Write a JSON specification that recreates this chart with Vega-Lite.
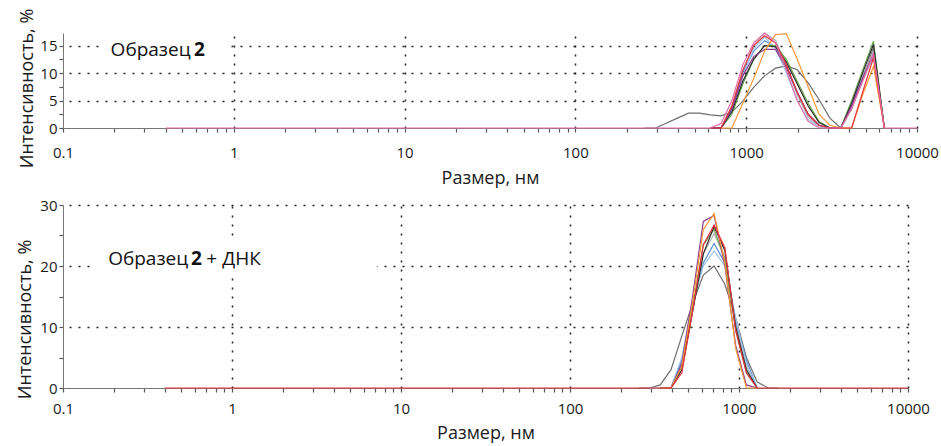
{
  "$schema": "https://vega.github.io/schema/vega-lite/v6.json",
  "background": "white",
  "padding": {"left": 16, "top": 8, "right": 5, "bottom": 3},
  "spacing": 11,
  "config": {
    "font": "Open Sans",
    "view": {"stroke": null},
    "axis": {
      "labelFont": "Open Sans", "labelFontSize": 15, "labelColor": "#1a1a1a",
      "titleFont": "Open Sans", "titleFontSize": 18, "titleFontWeight": "normal", "titleColor": "#1a1a1a",
      "domainColor": "#777777", "tickColor": "#555555", "tickSize": 4, "tickWidth": 1.2,
      "gridColor": "#222222", "gridDash": [2, 7], "gridWidth": 1.5,
      "labelOverlap": false, "labelFlush": false
    }
  },
  "datasets": {
    "top": [
      {"series":"s01","size":255,"intensity":0},{"series":"s01","size":295.3,"intensity":0},{"series":"s01","size":342,"intensity":0.9},{"series":"s01","size":396.1,"intensity":1.8},{"series":"s01","size":458.7,"intensity":2.7},{"series":"s01","size":531.2,"intensity":2.7},{"series":"s01","size":615.1,"intensity":2.4},{"series":"s01","size":712.4,"intensity":2.2},{"series":"s01","size":825,"intensity":2.9},{"series":"s01","size":955.4,"intensity":4.9},{"series":"s01","size":1106,"intensity":7.4},{"series":"s01","size":1281,"intensity":9.5},{"series":"s01","size":1484,"intensity":10.9},{"series":"s01","size":1718,"intensity":11.3},{"series":"s01","size":1990,"intensity":10.6},{"series":"s01","size":2305,"intensity":8.2},{"series":"s01","size":2669,"intensity":5.2},{"series":"s01","size":3091,"intensity":1.8},{"series":"s01","size":3580,"intensity":0},{"series":"s01","size":4145,"intensity":3.5},{"series":"s01","size":4801,"intensity":9.0},{"series":"s01","size":5560,"intensity":14.6},{"series":"s01","size":6439,"intensity":0},
      {"series":"s02","size":615.1,"intensity":0},{"series":"s02","size":712.4,"intensity":0},{"series":"s02","size":825,"intensity":4.0},{"series":"s02","size":955.4,"intensity":10.5},{"series":"s02","size":1106,"intensity":15.0},{"series":"s02","size":1281,"intensity":17.3},{"series":"s02","size":1484,"intensity":16.0},{"series":"s02","size":1718,"intensity":11.5},{"series":"s02","size":1990,"intensity":6.0},{"series":"s02","size":2305,"intensity":2.0},{"series":"s02","size":2669,"intensity":0.3},{"series":"s02","size":3091,"intensity":0},{"series":"s02","size":3580,"intensity":0},{"series":"s02","size":4145,"intensity":4.0},{"series":"s02","size":4801,"intensity":9.5},{"series":"s02","size":5560,"intensity":14.0},{"series":"s02","size":6439,"intensity":0},
      {"series":"s03","size":615.1,"intensity":0},{"series":"s03","size":712.4,"intensity":0},{"series":"s03","size":825,"intensity":3.5},{"series":"s03","size":955.4,"intensity":10.0},{"series":"s03","size":1106,"intensity":14.0},{"series":"s03","size":1281,"intensity":15.9},{"series":"s03","size":1484,"intensity":14.8},{"series":"s03","size":1718,"intensity":11.0},{"series":"s03","size":1990,"intensity":6.5},{"series":"s03","size":2305,"intensity":2.5},{"series":"s03","size":2669,"intensity":0.5},{"series":"s03","size":3091,"intensity":0},{"series":"s03","size":3580,"intensity":0},{"series":"s03","size":4145,"intensity":4.0},{"series":"s03","size":4801,"intensity":9.0},{"series":"s03","size":5560,"intensity":13.5},{"series":"s03","size":6439,"intensity":0},
      {"series":"s04","size":615.1,"intensity":0},{"series":"s04","size":712.4,"intensity":0},{"series":"s04","size":825,"intensity":3.0},{"series":"s04","size":955.4,"intensity":9.5},{"series":"s04","size":1106,"intensity":14.5},{"series":"s04","size":1281,"intensity":16.5},{"series":"s04","size":1484,"intensity":14.5},{"series":"s04","size":1718,"intensity":10.0},{"series":"s04","size":1990,"intensity":5.0},{"series":"s04","size":2305,"intensity":1.5},{"series":"s04","size":2669,"intensity":0.3},{"series":"s04","size":3091,"intensity":0},{"series":"s04","size":3580,"intensity":0},{"series":"s04","size":4145,"intensity":3.5},{"series":"s04","size":4801,"intensity":8.5},{"series":"s04","size":5560,"intensity":13.0},{"series":"s04","size":6439,"intensity":0},
      {"series":"s05","size":615.1,"intensity":0},{"series":"s05","size":712.4,"intensity":0},{"series":"s05","size":825,"intensity":2.5},{"series":"s05","size":955.4,"intensity":8.0},{"series":"s05","size":1106,"intensity":12.5},{"series":"s05","size":1281,"intensity":15.0},{"series":"s05","size":1484,"intensity":15.0},{"series":"s05","size":1718,"intensity":12.5},{"series":"s05","size":1990,"intensity":8.5},{"series":"s05","size":2305,"intensity":4.5},{"series":"s05","size":2669,"intensity":1.2},{"series":"s05","size":3091,"intensity":0},{"series":"s05","size":3580,"intensity":0},{"series":"s05","size":4145,"intensity":5.0},{"series":"s05","size":4801,"intensity":10.5},{"series":"s05","size":5560,"intensity":15.8},{"series":"s05","size":6439,"intensity":0},
      {"series":"s06","size":615.1,"intensity":0},{"series":"s06","size":712.4,"intensity":0},{"series":"s06","size":825,"intensity":3.0},{"series":"s06","size":955.4,"intensity":8.5},{"series":"s06","size":1106,"intensity":12.5},{"series":"s06","size":1281,"intensity":15.0},{"series":"s06","size":1484,"intensity":14.8},{"series":"s06","size":1718,"intensity":12.0},{"series":"s06","size":1990,"intensity":8.0},{"series":"s06","size":2305,"intensity":4.0},{"series":"s06","size":2669,"intensity":1.0},{"series":"s06","size":3091,"intensity":0},{"series":"s06","size":3580,"intensity":0},{"series":"s06","size":4145,"intensity":4.5},{"series":"s06","size":4801,"intensity":10.0},{"series":"s06","size":5560,"intensity":15.2},{"series":"s06","size":6439,"intensity":0},
      {"series":"s07","size":615.1,"intensity":0},{"series":"s07","size":712.4,"intensity":0},{"series":"s07","size":825,"intensity":3.5},{"series":"s07","size":955.4,"intensity":9.5},{"series":"s07","size":1106,"intensity":13.0},{"series":"s07","size":1281,"intensity":14.3},{"series":"s07","size":1484,"intensity":14.3},{"series":"s07","size":1718,"intensity":11.0},{"series":"s07","size":1990,"intensity":6.5},{"series":"s07","size":2305,"intensity":2.5},{"series":"s07","size":2669,"intensity":0.5},{"series":"s07","size":3091,"intensity":0},{"series":"s07","size":3580,"intensity":0},{"series":"s07","size":4145,"intensity":4.0},{"series":"s07","size":4801,"intensity":9.0},{"series":"s07","size":5560,"intensity":13.4},{"series":"s07","size":6439,"intensity":0},
      {"series":"s08","size":712.4,"intensity":0},{"series":"s08","size":825,"intensity":0},{"series":"s08","size":955.4,"intensity":4.5},{"series":"s08","size":1106,"intensity":9.0},{"series":"s08","size":1281,"intensity":14.0},{"series":"s08","size":1484,"intensity":17.0},{"series":"s08","size":1718,"intensity":17.2},{"series":"s08","size":1990,"intensity":12.5},{"series":"s08","size":2305,"intensity":7.5},{"series":"s08","size":2669,"intensity":2.5},{"series":"s08","size":3091,"intensity":0.5},{"series":"s08","size":3580,"intensity":0},{"series":"s08","size":4145,"intensity":0},{"series":"s08","size":4801,"intensity":6.0},{"series":"s08","size":5560,"intensity":11.2},{"series":"s08","size":6439,"intensity":0},
      {"series":"s09","size":615.1,"intensity":0},{"series":"s09","size":712.4,"intensity":0},{"series":"s09","size":825,"intensity":4.0},{"series":"s09","size":955.4,"intensity":10.5},{"series":"s09","size":1106,"intensity":15.0},{"series":"s09","size":1281,"intensity":16.8},{"series":"s09","size":1484,"intensity":15.5},{"series":"s09","size":1718,"intensity":11.5},{"series":"s09","size":1990,"intensity":6.5},{"series":"s09","size":2305,"intensity":2.5},{"series":"s09","size":2669,"intensity":0.5},{"series":"s09","size":3091,"intensity":0},{"series":"s09","size":3580,"intensity":0},{"series":"s09","size":4145,"intensity":0},{"series":"s09","size":4801,"intensity":6.5},{"series":"s09","size":5560,"intensity":12.8},{"series":"s09","size":6439,"intensity":0},
      {"series":"s10","size":0.4,"intensity":0},{"series":"s10","size":615.1,"intensity":0},{"series":"s10","size":712.4,"intensity":0.8},{"series":"s10","size":825,"intensity":5.0},{"series":"s10","size":955.4,"intensity":11.5},{"series":"s10","size":1106,"intensity":15.5},{"series":"s10","size":1281,"intensity":17.3},{"series":"s10","size":1484,"intensity":15.5},{"series":"s10","size":1718,"intensity":10.5},{"series":"s10","size":1990,"intensity":5.0},{"series":"s10","size":2305,"intensity":1.2},{"series":"s10","size":2669,"intensity":0},{"series":"s10","size":3091,"intensity":0},{"series":"s10","size":3580,"intensity":0},{"series":"s10","size":4145,"intensity":3.5},{"series":"s10","size":4801,"intensity":8.5},{"series":"s10","size":5560,"intensity":13.5},{"series":"s10","size":6439,"intensity":0},{"series":"s10","size":10000,"intensity":0}
    ],
    "bottom": [
      {"series":"s01","size":255,"intensity":0},{"series":"s01","size":295.3,"intensity":0},{"series":"s01","size":342,"intensity":0.5},{"series":"s01","size":396.1,"intensity":3.0},{"series":"s01","size":458.7,"intensity":8.5},{"series":"s01","size":531.2,"intensity":13.8},{"series":"s01","size":615.1,"intensity":18.5},{"series":"s01","size":712.4,"intensity":20.0},{"series":"s01","size":825,"intensity":17.0},{"series":"s01","size":955.4,"intensity":11.5},{"series":"s01","size":1106,"intensity":5.0},{"series":"s01","size":1281,"intensity":1.0},{"series":"s01","size":1484,"intensity":0},{"series":"s01","size":1718,"intensity":0},
      {"series":"s02","size":342,"intensity":0},{"series":"s02","size":396.1,"intensity":0},{"series":"s02","size":458.7,"intensity":4.0},{"series":"s02","size":531.2,"intensity":13.0},{"series":"s02","size":615.1,"intensity":22.0},{"series":"s02","size":712.4,"intensity":25.3},{"series":"s02","size":825,"intensity":21.5},{"series":"s02","size":955.4,"intensity":10.5},{"series":"s02","size":1106,"intensity":3.5},{"series":"s02","size":1281,"intensity":0},
      {"series":"s03","size":342,"intensity":0},{"series":"s03","size":396.1,"intensity":0},{"series":"s03","size":458.7,"intensity":4.5},{"series":"s03","size":531.2,"intensity":13.5},{"series":"s03","size":615.1,"intensity":20.5},{"series":"s03","size":712.4,"intensity":23.7},{"series":"s03","size":825,"intensity":20.5},{"series":"s03","size":955.4,"intensity":11.0},{"series":"s03","size":1106,"intensity":4.5},{"series":"s03","size":1281,"intensity":0},
      {"series":"s04","size":295.3,"intensity":0},{"series":"s04","size":396.1,"intensity":0},{"series":"s04","size":458.7,"intensity":5.0},{"series":"s04","size":531.2,"intensity":14.0},{"series":"s04","size":615.1,"intensity":20.0},{"series":"s04","size":712.4,"intensity":22.5},{"series":"s04","size":825,"intensity":20.0},{"series":"s04","size":955.4,"intensity":11.5},{"series":"s04","size":1106,"intensity":4.0},{"series":"s04","size":1281,"intensity":0},
      {"series":"s05","size":342,"intensity":0},{"series":"s05","size":396.1,"intensity":0},{"series":"s05","size":458.7,"intensity":3.5},{"series":"s05","size":531.2,"intensity":13.0},{"series":"s05","size":615.1,"intensity":23.5},{"series":"s05","size":712.4,"intensity":26.0},{"series":"s05","size":825,"intensity":21.0},{"series":"s05","size":955.4,"intensity":9.5},{"series":"s05","size":1106,"intensity":2.5},{"series":"s05","size":1281,"intensity":0},
      {"series":"s06","size":342,"intensity":0},{"series":"s06","size":396.1,"intensity":0},{"series":"s06","size":458.7,"intensity":3.0},{"series":"s06","size":531.2,"intensity":12.5},{"series":"s06","size":615.1,"intensity":22.0},{"series":"s06","size":712.4,"intensity":26.5},{"series":"s06","size":825,"intensity":22.5},{"series":"s06","size":955.4,"intensity":10.0},{"series":"s06","size":1106,"intensity":3.0},{"series":"s06","size":1281,"intensity":0},
      {"series":"s07","size":342,"intensity":0},{"series":"s07","size":396.1,"intensity":0},{"series":"s07","size":458.7,"intensity":4.0},{"series":"s07","size":531.2,"intensity":15.0},{"series":"s07","size":615.1,"intensity":27.3},{"series":"s07","size":712.4,"intensity":28.3},{"series":"s07","size":825,"intensity":20.0},{"series":"s07","size":955.4,"intensity":7.0},{"series":"s07","size":1106,"intensity":0.5},{"series":"s07","size":1281,"intensity":0},
      {"series":"s08","size":342,"intensity":0},{"series":"s08","size":396.1,"intensity":0},{"series":"s08","size":458.7,"intensity":3.5},{"series":"s08","size":531.2,"intensity":14.0},{"series":"s08","size":615.1,"intensity":26.0},{"series":"s08","size":712.4,"intensity":28.6},{"series":"s08","size":825,"intensity":20.5},{"series":"s08","size":955.4,"intensity":6.5},{"series":"s08","size":1106,"intensity":0},{"series":"s08","size":1281,"intensity":0},
      {"series":"s09","size":0.4,"intensity":0},{"series":"s09","size":396.1,"intensity":0},{"series":"s09","size":458.7,"intensity":2.5},{"series":"s09","size":531.2,"intensity":12.5},{"series":"s09","size":615.1,"intensity":23.5},{"series":"s09","size":712.4,"intensity":26.7},{"series":"s09","size":825,"intensity":23.0},{"series":"s09","size":955.4,"intensity":9.5},{"series":"s09","size":1106,"intensity":2.5},{"series":"s09","size":1281,"intensity":0},{"series":"s09","size":10000,"intensity":0}
    ]
  },
  "vconcat": [
    {
      "width": 854,
      "height": 95,
      "resolve": {"axis": {"x": "independent", "y": "independent"}},
      "layer": [
        {
          "data": {"values": [{}]},
          "mark": {"type": "rect", "color": "white"},
          "encoding": {
            "x": {"datum": 0.163, "type": "quantitative",
              "axis": {"orient": "top", "values": [1, 10, 100, 1000, 10000], "grid": true, "ticks": false, "labels": false, "domain": false, "title": null}},
            "x2": {"datum": 0.914},
            "y": {"datum": 16.7, "type": "quantitative",
              "axis": {"orient": "right", "values": [5, 10, 15], "grid": true, "ticks": false, "labels": false, "domain": false, "title": null}},
            "y2": {"datum": 12.2}
          }
        },
        {
          "data": {"name": "top"},
          "mark": {"type": "line", "strokeWidth": 1.2},
          "encoding": {
            "x": {
              "field": "size", "type": "quantitative",
              "scale": {"type": "log", "domain": [0.1, 10000], "nice": false},
              "axis": {
                "orient": "bottom",
                "title": "Размер, нм",
                "grid": false,
                "values": [0.1,0.2,0.3,0.4,0.5,0.6,0.7,0.8,0.9,1,2,3,4,5,6,7,8,9,10,20,30,40,50,60,70,80,90,100,200,300,400,500,600,700,800,900,1000,2000,3000,4000,5000,6000,7000,8000,9000,10000],
                "labelExpr": "abs(log(datum.value)/LN10 - round(log(datum.value)/LN10)) < 0.001 ? '' + datum.value : ''",
                "labelPadding": 13,
                "titlePadding": 9
              }
            },
            "y": {
              "field": "intensity", "type": "quantitative",
              "scale": {"domain": [0, 17.3], "nice": false},
              "axis": {
                "orient": "left",
                "title": "Интенсивность, %",
                "grid": false,
                "values": [0, 2.5, 5, 7.5, 10, 12.5, 15],
                "labelExpr": "datum.value % 5 == 0 ? '' + datum.value : ''",
                "labelPadding": 2,
                "titlePadding": 3,
                "titleY": 55
              }
            },
            "color": {
              "field": "series", "type": "nominal", "legend": null,
              "scale": {
                "domain": ["s01","s02","s03","s04","s05","s06","s07","s08","s09","s10"],
                "range": ["#6e6e6e","#b4b4b4","#5b8fd0","#9cc3e6","#6aa84f","#2b2b2b","#8e3a8e","#f7993a","#e8303a","#e66aa5"]
              }
            }
          }
        },
        {
          "data": {"values": [{}]},
          "mark": {"type": "text", "align": "left", "baseline": "middle", "fontSize": 19, "font": "Open Sans", "color": "#111111"},
          "encoding": {
            "x": {"datum": 0.19, "type": "quantitative", "axis": null},
            "y": {"datum": 14.2, "type": "quantitative", "axis": null},
            "text": {"value": "Образец"}
          }
        },
        {
          "data": {"values": [{}]},
          "mark": {"type": "text", "align": "left", "baseline": "middle", "fontSize": 19, "font": "Open Sans", "fontWeight": "bold", "color": "#111111"},
          "encoding": {
            "x": {"datum": 0.585, "type": "quantitative", "axis": null},
            "y": {"datum": 14.2, "type": "quantitative", "axis": null},
            "text": {"value": "2"}
          }
        }
      ]
    },
    {
      "width": 845,
      "height": 183,
      "resolve": {"axis": {"x": "independent", "y": "independent"}},
      "layer": [
        {
          "data": {"values": [{}]},
          "mark": {"type": "rect", "color": "white"},
          "encoding": {
            "x": {"datum": 0.153, "type": "quantitative",
              "axis": {"orient": "top", "values": [1, 10, 100, 1000, 10000], "grid": true, "ticks": false, "labels": false, "domain": false, "title": null}},
            "x2": {"datum": 7.2},
            "y": {"datum": 24.2, "type": "quantitative",
              "axis": {"orient": "right", "values": [10, 20, 30], "grid": true, "ticks": false, "labels": false, "domain": false, "title": null}},
            "y2": {"datum": 18.8}
          }
        },
        {
          "data": {"name": "bottom"},
          "mark": {"type": "line", "strokeWidth": 1.2},
          "encoding": {
            "x": {
              "field": "size", "type": "quantitative",
              "scale": {"type": "log", "domain": [0.1, 10000], "nice": false},
              "axis": {
                "orient": "bottom",
                "title": "Размер, нм",
                "grid": false,
                "values": [0.1,0.2,0.3,0.4,0.5,0.6,0.7,0.8,0.9,1,2,3,4,5,6,7,8,9,10,20,30,40,50,60,70,80,90,100,200,300,400,500,600,700,800,900,1000,2000,3000,4000,5000,6000,7000,8000,9000,10000],
                "labelExpr": "abs(log(datum.value)/LN10 - round(log(datum.value)/LN10)) < 0.001 ? '' + datum.value : ''",
                "labelPadding": 9,
                "titlePadding": 8
              }
            },
            "y": {
              "field": "intensity", "type": "quantitative",
              "scale": {"domain": [0, 30], "nice": false},
              "axis": {
                "orient": "left",
                "title": "Интенсивность, %",
                "grid": false,
                "values": [0, 5, 10, 15, 20, 25, 30],
                "labelExpr": "datum.value % 10 == 0 ? '' + datum.value : ''",
                "labelPadding": 2,
                "titlePadding": 5,
                "titleY": 114
              }
            },
            "color": {
              "field": "series", "type": "nominal", "legend": null,
              "scale": {
                "domain": ["s01","s02","s03","s04","s05","s06","s07","s08","s09"],
                "range": ["#5b8fd0","#a8a8a8","#6e6e6e","#2b2b2b","#6aa84f","#8e3a8e","#f7993a","#e8303a","#e66aa5"]
              }
            }
          }
        },
        {
          "data": {"values": [{}]},
          "mark": {"type": "text", "align": "left", "baseline": "middle", "fontSize": 19, "font": "Open Sans", "color": "#111111"},
          "encoding": {
            "x": {"datum": 0.185, "type": "quantitative", "axis": null},
            "y": {"datum": 21.2, "type": "quantitative", "axis": null},
            "text": {"value": "Образец"}
          }
        },
        {
          "data": {"values": [{}]},
          "mark": {"type": "text", "align": "left", "baseline": "middle", "fontSize": 19, "font": "Open Sans", "fontWeight": "bold", "color": "#111111"},
          "encoding": {
            "x": {"datum": 0.572, "type": "quantitative", "axis": null},
            "y": {"datum": 21.2, "type": "quantitative", "axis": null},
            "text": {"value": "2"}
          }
        },
        {
          "data": {"values": [{}]},
          "mark": {"type": "text", "align": "left", "baseline": "middle", "fontSize": 19, "font": "Open Sans", "color": "#111111"},
          "encoding": {
            "x": {"datum": 0.705, "type": "quantitative", "axis": null},
            "y": {"datum": 21.2, "type": "quantitative", "axis": null},
            "text": {"value": "+ ДНК"}
          }
        }
      ]
    }
  ]
}
